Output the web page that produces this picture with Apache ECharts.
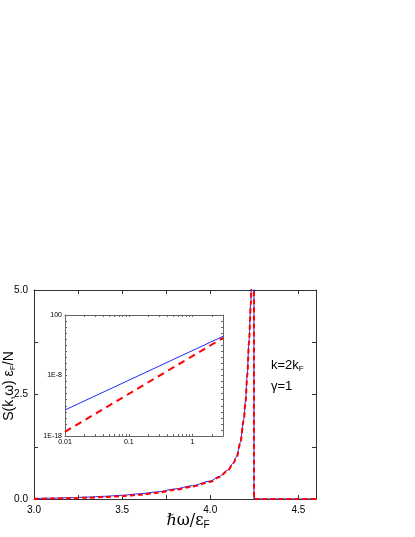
<!DOCTYPE html>
<html lang="en">
<head>
    <meta charset="UTF-8">
    <title>S(k,w)</title>
    <style>
        html, body { margin: 0; padding: 0; background: #fff; }
        #chart { width: 415px; height: 537px; }
    </style>
</head>
<body>
    <div id="chart"></div>
    <script src="https://cdn.jsdelivr.net/npm/echarts@6/dist/echarts.min.js"></script>
    <script>
        // main panel
        var omega = [3.0, 3.1, 3.2, 3.3, 3.4, 3.5, 3.6, 3.7, 3.8, 3.9, 4.0, 4.05, 4.1, 4.13, 4.15, 4.17, 4.19, 4.2, 4.21, 4.22, 4.23, 4.24, 4.248, 4.248, 4.3, 4.4, 4.5, 4.6]
        var sBlue = [0.01, 0.02, 0.03, 0.045, 0.065, 0.09, 0.125, 0.17, 0.24, 0.32, 0.43, 0.54, 0.69, 0.86, 1.02, 1.35, 1.9, 2.35, 3.0, 3.8, 4.7, 6.5, 6.5, 0, 0, 0, 0, 0]
        var sRed = [0.004, 0.01, 0.018, 0.03, 0.048, 0.07, 0.1, 0.15, 0.22, 0.3, 0.41, 0.52, 0.68, 0.85, 1.0, 1.33, 1.88, 2.3, 2.95, 3.75, 4.65, 6.5, 6.5, 0, 0, 0, 0, 0]

        var xTicks = [3.0, 3.5, 4.0, 4.5]
        var xMinor = [3.0, 3.25, 3.5, 3.75, 4.0, 4.25, 4.5]
        var yTicks = [0, 2.5, 5.0]
        var yMinor = [0, 1.25, 2.5, 3.75, 5.0]

        // inset (log-log)
        var insetOmega = [0.01, 3]
        var insetBlue = [2e-14, 0.03]
        var insetRed = [5e-18, 0.016]
        var insetXTicks = [0.01, 0.1, 1]
        var insetXMinor = [0.01, 0.02, 0.03, 0.04, 0.05, 0.06, 0.07, 0.08, 0.09, 0.1, 0.2, 0.3, 0.4, 0.5, 0.6, 0.7, 0.8, 0.9, 1, 2, 3]
        var insetYTicks = [1e-18, 1e-8, 100]
        var insetYLabels = ['1E-18', '1E-8', '100']
        var insetYMinor = []
        for (var e = -18; e <= 2; e++) insetYMinor.push(Math.pow(10, e))

        var axisColor = '#333'
        var font = 'Liberation Sans, Arial, sans-serif'

        function pair(a, b) {
            var out = []
            for (var i = 0; i < a.length; i++) out.push([a[i], b[i]])
            return out
        }

        function frameAxis(extra, ticks, withLabels, labels, fmt, len) {
            var ax = {
                axisLine: { show: true, onZero: false, lineStyle: { color: axisColor, width: 1 } },
                axisTick: { show: true, inside: true, length: len, customValues: ticks, lineStyle: { color: axisColor } },
                splitLine: { show: false },
                axisLabel: { show: withLabels, customValues: labels, formatter: fmt, color: '#000', fontFamily: font, fontSize: 10, margin: 6 }
            }
            for (var k in extra) ax[k] = extra[k]
            return ax
        }

        var myChart = echarts.init(document.getElementById('chart'))

        var fmt1 = function (v) { return v.toFixed(1) }
        var insetXFmt = function (v) { return v >= 1 ? String(Math.round(v)) : String(+v.toPrecision(1)) }
        var insetYFmt = function (v) {
            var e = Math.round(Math.log10(v))
            for (var i = 0; i < insetYTicks.length; i++) {
                if (Math.round(Math.log10(insetYTicks[i])) === e) return insetYLabels[i]
            }
            return ''
        }

        var xMain = frameAxis({ type: 'value', gridIndex: 0, position: 'bottom', min: 3, max: 4.6 }, xMinor, true, xTicks, fmt1, 4)
        var xMainTop = frameAxis({ type: 'value', gridIndex: 0, position: 'top', min: 3, max: 4.6 }, xMinor, false, xTicks, fmt1, 4)
        var yMain = frameAxis({ type: 'value', gridIndex: 0, position: 'left', min: 0, max: 5 }, yMinor, true, yTicks, fmt1, 4)
        var yMainRight = frameAxis({ type: 'value', gridIndex: 0, position: 'right', min: 0, max: 5 }, yMinor, false, yTicks, fmt1, 4)

        var xIn = frameAxis({ type: 'log', gridIndex: 1, position: 'bottom', min: 0.01, max: 3, logBase: 10 }, insetXMinor, true, insetXTicks, insetXFmt, 2)
        var xInTop = frameAxis({ type: 'log', gridIndex: 1, position: 'top', min: 0.01, max: 3, logBase: 10 }, insetXMinor, false, insetXTicks, insetXFmt, 2)
        var yIn = frameAxis({ type: 'log', gridIndex: 1, position: 'left', min: 1e-18, max: 100, logBase: 10 }, insetYMinor, true, insetYTicks, insetYFmt, 2)
        var yInRight = frameAxis({ type: 'log', gridIndex: 1, position: 'right', min: 1e-18, max: 100, logBase: 10 }, insetYMinor, false, insetYTicks, insetYFmt, 2)
        ;[xIn, xInTop, yIn, yInRight].forEach(function (a) {
            a.axisLine.lineStyle.color = '#666'
            a.axisTick.lineStyle.color = '#666'
            a.axisLabel.fontSize = 7
            a.axisLabel.margin = 3
        })

        var option = {
            backgroundColor: '#fff',
            animation: false,
            grid: [
                { left: 34, top: 290, width: 282, height: 209, containLabel: false },
                { left: 65, top: 315, width: 158, height: 121, show: true, backgroundColor: '#fff', borderWidth: 0, containLabel: false }
            ],
            xAxis: [xMain, xMainTop, xIn, xInTop],
            yAxis: [yMain, yMainRight, yIn, yInRight],
            series: [
                {
                    type: 'line', xAxisIndex: 0, yAxisIndex: 0, data: pair(omega, sBlue),
                    showSymbol: false, smooth: 0.3, smoothMonotone: 'x',
                    lineStyle: { color: '#1f2bff', width: 1 }, z: 2
                },
                {
                    type: 'line', xAxisIndex: 0, yAxisIndex: 0, data: pair(omega, sRed),
                    showSymbol: false, smooth: 0.3, smoothMonotone: 'x',
                    lineStyle: { color: '#ff0000', width: 2, type: [5, 3] }, z: 3
                },
                {
                    type: 'line', xAxisIndex: 2, yAxisIndex: 2, data: pair(insetOmega, insetBlue),
                    showSymbol: false, lineStyle: { color: '#1f2bff', width: 1 }, z: 5
                },
                {
                    type: 'line', xAxisIndex: 2, yAxisIndex: 2, data: pair(insetOmega, insetRed),
                    showSymbol: false, lineStyle: { color: '#ff0000', width: 2, type: [7, 5] }, z: 5
                }
            ],
            graphic: [
                {
                    type: 'text', x: 9, y: 386, rotation: Math.PI / 2,
                    style: {
                        text: '{a|S(k,ω) ε}{s|F}{a|/N}',
                        align: 'center', verticalAlign: 'middle',
                        rich: {
                            a: { fontFamily: font, fontSize: 14, fill: '#000' },
                            s: { fontFamily: font, fontSize: 8, fill: '#000', padding: [8, 0, 0, 0] }
                        }
                    }
                },
                {
                    type: 'text', x: 188, y: 521,
                    style: {
                        text: '{a|ℏω/ε}{s|F}',
                        align: 'center', verticalAlign: 'middle',
                        rich: {
                            a: { fontFamily: 'DejaVu Serif, serif', fontSize: 16, fill: '#000' },
                            s: { fontFamily: font, fontSize: 10, fill: '#000', padding: [9, 0, 0, 0] }
                        }
                    }
                },
                {
                    type: 'text', x: 271, y: 365,
                    style: {
                        text: '{a|k=2k}{s|F}',
                        align: 'left', verticalAlign: 'middle',
                        rich: {
                            a: { fontFamily: font, fontSize: 13, fill: '#000' },
                            s: { fontFamily: font, fontSize: 8, fill: '#000', padding: [8, 0, 0, 0] }
                        }
                    }
                },
                {
                    type: 'text', x: 271, y: 386,
                    style: { text: 'γ=1', fontFamily: font, fontSize: 13, fill: '#000', align: 'left', verticalAlign: 'middle' }
                }
            ]
        }
        myChart.setOption(option)
    </script>
</body>
</html>
